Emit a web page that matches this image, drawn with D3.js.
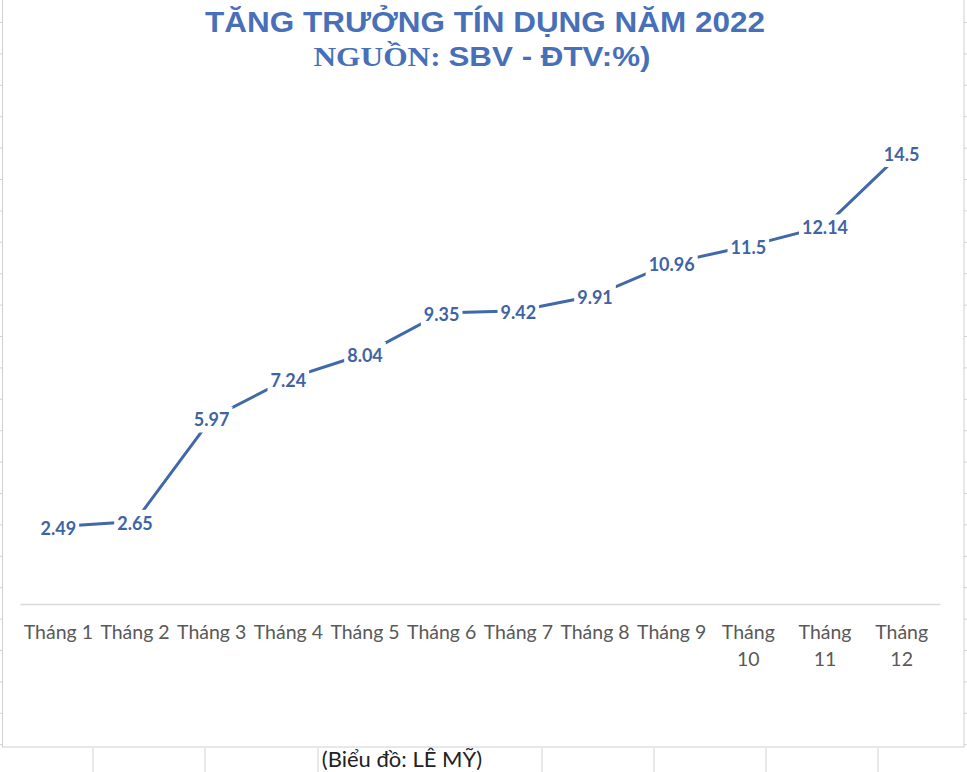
<!DOCTYPE html>
<html>
<head>
<meta charset="utf-8">
<script src="https://cdnjs.cloudflare.com/ajax/libs/d3/7.8.5/d3.min.js"></script>
<style>
  body { margin: 0; background: #fff; }
  svg { display: block; }
</style>
</head>
<body>
<script>
// data
var months = ["Tháng 1", "Tháng 2", "Tháng 3", "Tháng 4", "Tháng 5", "Tháng 6",
              "Tháng 7", "Tháng 8", "Tháng 9", "Tháng 10", "Tháng 11", "Tháng 12"];
var growth = [2.49, 2.65, 5.97, 7.24, 8.04, 9.35, 9.42, 9.91, 10.96, 11.5, 12.14, 14.5];
var yDomain = [0, 16];

var width = 967, height = 772;
var blue = "#4169aa";

var svg = d3.select("body").append("svg")
  .attr("width", width)
  .attr("height", height);

// spreadsheet cells behind the chart object
var colLines = [93, 205, 318, 542, 654, 766, 878];
svg.selectAll(".col").data(colLines).enter().append("line")
  .attr("x1", function(d){ return d; }).attr("x2", function(d){ return d; })
  .attr("y1", 748).attr("y2", height)
  .attr("stroke", "#d4d4d4").attr("stroke-width", 1);
var rowLines = d3.range(22.5, 748, 31.4);
svg.selectAll(".rowR").data(rowLines).enter().append("line")
  .attr("x1", 964).attr("x2", width)
  .attr("y1", function(d){ return d; }).attr("y2", function(d){ return d; })
  .attr("stroke", "#d4d4d4");
svg.selectAll(".rowL").data(rowLines).enter().append("line")
  .attr("x1", 0).attr("x2", 2)
  .attr("y1", function(d){ return d; }).attr("y2", function(d){ return d; })
  .attr("stroke", "#d4d4d4");

// caption below chart
svg.append("text")
  .attr("x", 402).attr("y", 767)
  .attr("text-anchor", "middle")
  .style("font-family", "Lato, 'Open Sans', sans-serif")
  .style("font-size", "22px")
  .style("fill", "#222")
  .text("(Biểu đồ: LÊ MỸ)");

// chart frame
svg.append("rect")
  .attr("x", 2.5).attr("y", -5)
  .attr("width", 961.5).attr("height", 752)
  .attr("fill", "#fff")
  .attr("stroke", "#d0d0d0");

// title (stretched a little, the original is wide)
var t1 = svg.append("text")
  .attr("transform", "translate(485,32) scale(1.085,1)")
  .attr("text-anchor", "middle")
  .style("font-family", "'Liberation Sans', Arial, sans-serif")
  .style("font-weight", "bold")
  .style("font-size", "29px")
  .style("fill", "#4770b8")
  .text("TĂNG TRƯỞNG TÍN DỤNG NĂM 2022");
var t2 = svg.append("text")
  .attr("transform", "translate(482,66) scale(1.12,1)")
  .attr("text-anchor", "middle")
  .style("font-weight", "bold")
  .style("font-size", "28px")
  .style("fill", "#4770b8");
t2.append("tspan")
  .style("font-family", "'Liberation Serif', 'Times New Roman', serif")
  .text("NGUỒN: ");
t2.append("tspan")
  .style("font-family", "'Liberation Sans', Arial, sans-serif")
  .text("SBV - ĐTV:%)");

// scales
var x = d3.scaleBand().domain(months).range([20, 940]);
var y = d3.scaleLinear().domain(yDomain).range([604, 106]);

// category axis
var xAxis = svg.append("g")
  .attr("transform", "translate(0,604)")
  .call(d3.axisBottom(x).tickSize(0).tickPadding(0));
xAxis.select(".domain").attr("stroke", "#d9d9d9").attr("stroke-width", 1.5);
xAxis.selectAll(".tick text")
  .style("font-family", "Lato, 'Open Sans', sans-serif")
  .style("font-size", "19.5px")
  .style("fill", "#595959")
  .attr("y", 35)
  .attr("dy", null)
  .each(function(d){
    // wrap like Excel when the label is wider than its slot
    var el = d3.select(this);
    if (this.getComputedTextLength() > x.bandwidth() - 2) {
      var parts = d.split(" ");
      el.text(null);
      el.append("tspan").attr("x", 0).attr("y", 35).text(parts[0]);
      el.append("tspan").attr("x", 0).attr("y", 62).text(parts[1]);
    }
  });

// line
var line = d3.line()
  .x(function(d, i){ return x(months[i]) + x.bandwidth() / 2; })
  .y(function(d){ return y(d); });

svg.append("path")
  .datum(growth)
  .attr("d", line)
  .attr("fill", "none")
  .attr("stroke", blue)
  .attr("stroke-width", 3);

// data labels, with white boxes cutting the line
var lab = svg.selectAll(".lab").data(growth).enter().append("g")
  .attr("class", "lab")
  .attr("transform", function(d, i){
    return "translate(" + (x(months[i]) + x.bandwidth() / 2) + "," + y(d) + ")";
  });
var labText = lab.append("text")
  .attr("text-anchor", "middle")
  .attr("dy", "0.35em")
  .attr("y", 2)
  .style("font-family", "Lato, 'Open Sans', sans-serif")
  .style("font-weight", "bold")
  .style("font-size", "18px")
  .style("fill", "#3f64a4")
  .text(function(d){ return d; });
labText.each(function(){
  var b = this.getBBox();
  d3.select(this.parentNode).insert("rect", "text")
    .attr("x", b.x - 3).attr("y", b.y - 2)
    .attr("width", b.width + 6).attr("height", b.height + 4)
    .attr("fill", "#fff");
});
</script>
</body>
</html>
